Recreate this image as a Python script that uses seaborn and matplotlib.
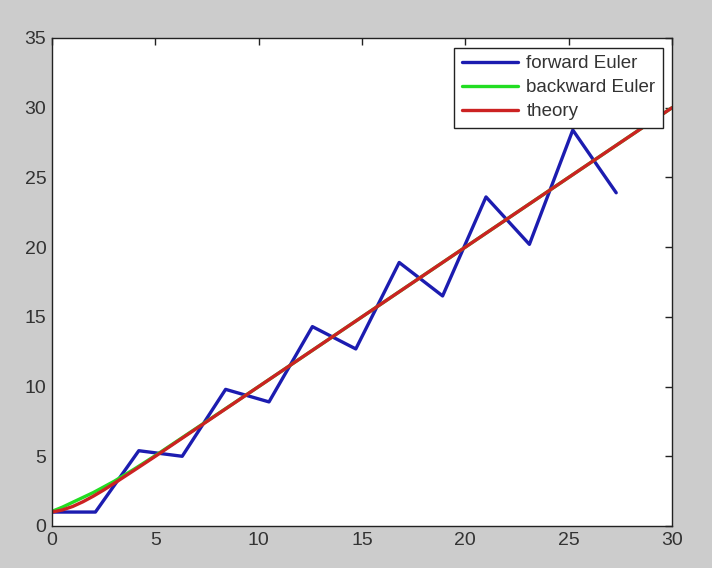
import matplotlib
matplotlib.use("Agg")
import matplotlib.pyplot as plt
import seaborn as sns
import pandas as pd

# forward Euler points
t_fwd = [0, 2.1, 4.2, 6.3, 8.4, 10.5, 12.6, 14.7, 16.8, 18.9, 21.0, 23.1, 25.2, 27.3]
y_fwd = [1.0, 1.0, 5.4, 5.0, 9.8, 8.9, 14.3, 12.7, 18.9, 16.5, 23.6, 20.2, 28.4, 23.9]

# backward Euler (mostly hidden under theory)
t_bwd = [0, 0.5, 1, 1.5, 2, 3, 4, 5, 10, 15, 20, 25, 30]
y_bwd = [1.05, 1.35, 1.7, 2.05, 2.4, 3.2, 4.1, 5.05, 10.0, 15.0, 20.0, 25.0, 30.0]

# theory
t_th = [0, 0.5, 1, 1.5, 2, 2.5, 3, 4, 5, 10, 15, 20, 25, 30]
y_th = [1.0, 1.15, 1.4, 1.74, 2.14, 2.58, 3.05, 4.02, 5.0, 10.0, 15.0, 20.0, 25.0, 30.0]

labels = ["forward Euler", "backward Euler", "theory"]
colors = ["#1c1cb0", "#22dd22", "#cc2222"]

x_ticks = [0, 5, 10, 15, 20, 25, 30]
y_ticks = [0, 5, 10, 15, 20, 25, 30, 35]

sns.set_theme(style="white")
plt.rcParams['font.family'] = ['Liberation Sans', 'DejaVu Sans']

fig = plt.figure(figsize=(7.12, 5.68), dpi=100, facecolor="#cccccc")
ax = fig.add_axes([52/712, 42/568, 620/712, 488/568])
ax.set_facecolor("white")

for tt, yy, lab, c in zip([t_fwd, t_bwd, t_th], [y_fwd, y_bwd, y_th], labels, colors):
    df = pd.DataFrame({"t": tt, "y": yy})
    sns.lineplot(data=df, x="t", y="y", ax=ax, color=c, linewidth=2.4, label=lab,
                 estimator=None, sort=False)

ax.set_xlim(0, 30)
ax.set_ylim(0, 35)
ax.set_xticks(x_ticks)
ax.set_yticks(y_ticks)
ax.set_xlabel("")
ax.set_ylabel("")
ax.tick_params(direction="in", length=5, width=1, top=True, right=True,
               labelsize=14, colors="#222222", pad=4)
ax.tick_params(axis="both", labelcolor="#333333")
for s in ax.spines.values():
    s.set_color("#222222")
    s.set_linewidth(1.0)

leg = ax.legend(loc="upper right", bbox_to_anchor=(0.9855, 0.98), fontsize=13.5,
                frameon=True, fancybox=False, framealpha=1.0, handlelength=3.0,
                borderpad=0.4, labelspacing=0.36, handletextpad=0.45, borderaxespad=0.0)
leg.get_frame().set_edgecolor("#222222")
leg.get_frame().set_linewidth(1.0)
for t in leg.get_texts():
    t.set_color("#333333")

fig.savefig("out.png", dpi=100, facecolor=fig.get_facecolor())
